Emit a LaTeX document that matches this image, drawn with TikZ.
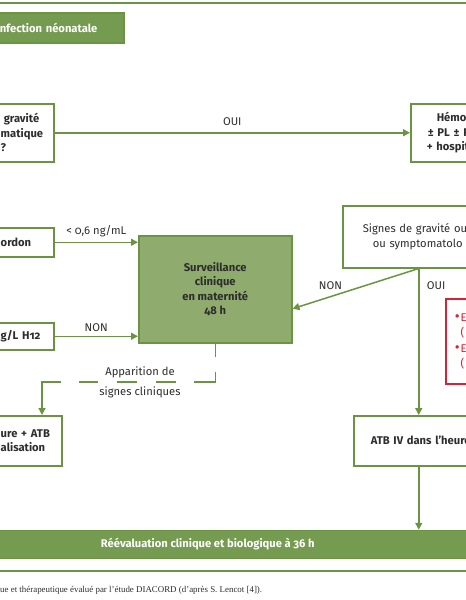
\documentclass[tikz,border=0pt]{standalone}
\usepackage{fontspec}
\setmainfont{Fira Sans}[Numbers=OldStyle]
\newfontfamily\legendefont{Liberation Serif}
\usetikzlibrary{arrows.meta,positioning}
\definecolor{gline}{RGB}{106,148,66}
\definecolor{gfill}{RGB}{116,155,79}
\definecolor{mfill}{RGB}{143,171,110}
\definecolor{texte}{RGB}{45,45,45}
\definecolor{alerte}{RGB}{220,30,55}
\newcommand{\puce}{{\fontsize{15pt}{0pt}\selectfont\raisebox{-0.6pt}{\textbullet}}\hspace{1pt}}

\begin{document}
\begin{tikzpicture}[x=1pt,y=-1pt,
    >={Triangle[length=7pt,width=7pt]},
    box/.style={draw=gline, line width=1.5pt, fill=white, text=texte, anchor=north west,
        align=left, inner xsep=2pt, inner ysep=0pt,
        font=\fontsize{11.2pt}{14.5pt}\selectfont\bfseries},
    tbox/.style={draw=gline, line width=1.5pt, fill=gfill, text=white, inner ysep=0pt,
        font=\fontsize{11.2pt}{14.5pt}\selectfont\bfseries},
    lbl/.style={text=texte, font=\fontsize{11.2pt}{14.5pt}\selectfont},
    fleche/.style={->, draw=gline, line width=1.5pt}]
    \useasboundingbox (0,0) rectangle (466,600);
    \clip (0,0) rectangle (466,600);

    % rules
    \draw[gline, line width=2pt] (0,3) -- (466,3);
    \draw[gline, line width=2pt] (0,571) -- (466,571);

    % boxes
    \node[tbox, anchor=north west, align=left, inner xsep=1pt, text width=123pt, minimum height=30pt] (titre) at (-2,12) {nfection néonatale};
    \node[box, text width=51pt, minimum height=58pt] (gravite) at (-2,103) {\hspace*{3pt}gravité\\matique\\?};
    \node[box, inner xsep=16pt, text width=70pt, minimum height=58pt] (hemo) at (410,103) {\hspace*{10pt}Hémo\\\hspace*{1pt}± PL ± R\\+ hospit};
    \node[box, text width=51pt, minimum height=29pt] (cordon) at (-2,227) {ordon};
    \node[box, text width=51pt, minimum height=27pt] (crp) at (-2,322) {g/L H12};
    \node[box, text width=59pt, minimum height=50pt] (atbg) at (-2,415) {ure + ATB\\alisation};
    \node[box, fill=mfill, align=center, inner xsep=0pt, minimum width=153pt, minimum height=107pt] (surv) at (138,235) {Surveillance\\clinique\\en maternité\\48 h};
    \node[box, font=\fontsize{11.2pt}{14.5pt}\selectfont, inner xsep=20pt, text width=112pt, minimum height=62pt] (signes) at (342,205) {Signes de gravité ou\\\hspace*{10pt}ou symptomatolo};
    \node[box, draw=alerte, text=alerte, font=\fontsize{11.2pt}{15.5pt}\selectfont, inner xsep=9pt, text width=40pt, minimum height=85pt] (rouge) at (445,298) {\puce E\\\phantom{\puce}(\\\puce E\\\phantom{\puce}(};
    \node[box, inner xsep=17pt, text width=140pt, minimum height=50pt] (atbd) at (353,415) {ATB IV dans l’heure};
    \node[tbox, anchor=west, minimum width=522pt, minimum height=28pt] (reeval) at (-54,544.5) {Réévaluation clinique et biologique à 36 h};
    \node[anchor=west, inner sep=0pt, text=texte, font=\legendefont\fontsize{8.9pt}{10pt}\selectfont] (legende) at (0,590) {ue et thérapeutique évalué par l’étude DIACORD (d’après S. Lencot [4]).};
    \node[lbl, align=center, font=\fontsize{11.2pt}{20pt}\selectfont] (apparition) at (140,382) {Apparition de\\signes cliniques};

    % connectors
    \draw[fleche] (gravite) -- node[lbl, above=3pt] {OUI} (hemo);
    \draw[fleche] (cordon.east) -- node[lbl, above=1pt] {< 0,6 ng/mL} (cordon.east -| surv.west);
    \draw[fleche] (crp.east) -- node[lbl, above=1pt] {NON} (crp.east -| surv.west);
    \draw[fleche] (signes.south) -- node[lbl, pos=0.7, above=3pt] {NON} ([yshift=-19.5pt]surv.east);
    \draw[fleche] (signes.south) -- node[lbl, pos=0.12, right=4pt] {OUI} (signes.south |- atbd.north);
    \draw[fleche] (signes.south |- atbd.south) -- (signes.south |- reeval.north);
    \coordinate (coude) at (42,382);
    \draw[fleche, dash pattern=on 13pt off 15pt on 32pt off 18pt on 20pt off 19pt on 20pt off 19pt on 19pt off 18pt on 80pt] (surv.south) |- (coude) -- (coude |- atbg.north);
\end{tikzpicture}
\end{document}
